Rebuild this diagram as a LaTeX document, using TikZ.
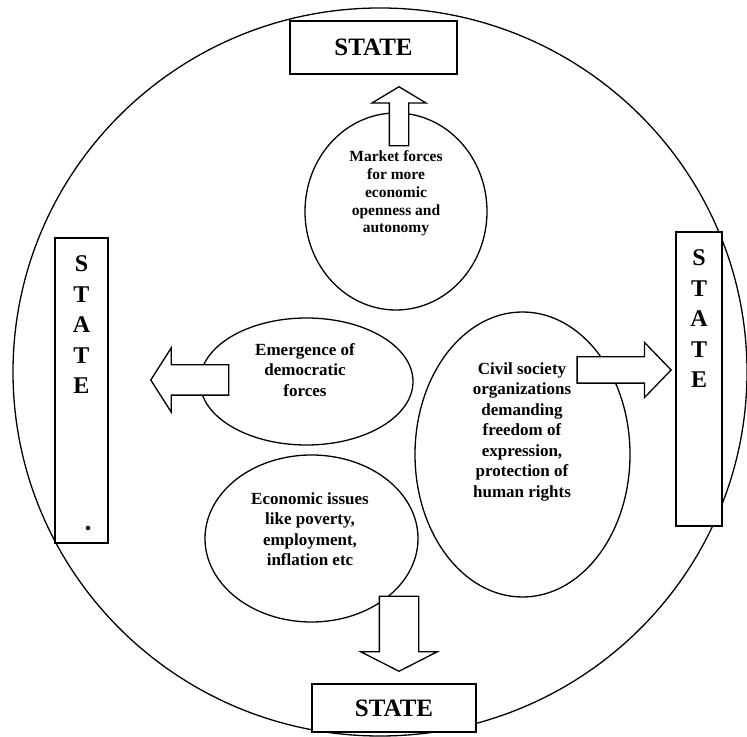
\documentclass[tikz,border=0pt]{standalone}
\usepackage{fontspec}
\setmainfont{Liberation Serif}
\usetikzlibrary{shapes.geometric,shapes.arrows}
\tikzset{
  statebox/.style={draw, rectangle, fill=white, inner sep=0pt,
    font=\fontsize{25bp}{30bp}\selectfont\bfseries},
  stateword/.style={anchor=north, align=center, inner sep=0pt,
    font=\fontsize{24bp}{30.5bp}\selectfont\bfseries},
  bubble/.style={draw, ellipse, inner sep=0pt},
  bubbletext/.style={align=center, inner sep=0pt,
    font=\fontsize{17bp}{20.5bp}\selectfont\bfseries},
  bigarrow/.style={draw, fill=white, single arrow, inner xsep=0pt, anchor=tip}
}
\begin{document}
\begin{tikzpicture}[x=1bp, y=1bp, line width=1.3bp]
  \useasboundingbox (0,0) rectangle (747,737);
  \node[bubble, minimum width=734bp, minimum height=728bp] (frame) at (380,365) {};

  \node[statebox, minimum width=167bp, minimum height=53bp] (topstate) at (373.5,689.5) {STATE};
  \node[statebox, minimum width=164bp, minimum height=48bp] (bottomstate) at (394,29) {STATE};
  \node[statebox, minimum width=53bp, minimum height=305bp] (leftstate) at (81.5,346.5) {};
  \node[statebox, minimum width=46bp, minimum height=294bp] (rightstate) at (699,358) {};
  \node[stateword] (leftword) at ([yshift=-18bp]leftstate.north) {S\\T\\A\\T\\E};
  \node[stateword] (rightword) at ([yshift=-18bp]rightstate.north) {S\\T\\A\\T\\E};
  \node[circle, fill, inner sep=0pt, minimum size=4.5bp] (dot) at (88,209) {};

  \node[bubble, minimum width=182bp, minimum height=197bp] (market) at (396,525.5) {};
  \node[bubble, minimum width=213bp, minimum height=127bp] (democracy) at (306.5,355.5) {};
  \node[bubble, minimum width=213bp, minimum height=167bp] (economy) at (311.5,198.5) {};
  \node[bubble, minimum width=215bp, minimum height=285bp] (civil) at (522.5,282.5) {};

  \node[bubbletext, font=\fontsize{15.5bp}{17.8bp}\selectfont\bfseries] (markettext) at (396,543.5)
    {Market forces\\for more\\economic\\openness and\\autonomy};
  \node[bubbletext] (democracytext) at (305,367) {Emergence of\\democratic\\forces};
  \node[bubbletext] (economytext) at (310,208) {Economic issues\\like poverty,\\employment,\\inflation etc};
  \node[bubbletext] (civiltext) at (522,305.5)
    {Civil society\\organizations\\demanding\\freedom of\\expression,\\protection of\\human rights};

  \node[bigarrow, rotate=90, inner ysep=9bp, single arrow head extend=17.5bp,
    single arrow tip angle=118, minimum height=59bp] (uparrow) at (399,651) {};
  \node[bigarrow, rotate=180, inner ysep=14.5bp, single arrow head extend=17bp,
    single arrow tip angle=115, minimum height=78bp] (leftarrow) at (150,357) {};
  \node[bigarrow, rotate=-90, inner ysep=19bp, single arrow head extend=18.5bp,
    single arrow tip angle=126, minimum height=75bp] (downarrow) at (399,65) {};
  \node[bigarrow, inner ysep=12.5bp, single arrow head extend=14.5bp,
    single arrow tip angle=92, minimum height=94bp] (rightarrow) at (672,367) {};
\end{tikzpicture}
\end{document}
